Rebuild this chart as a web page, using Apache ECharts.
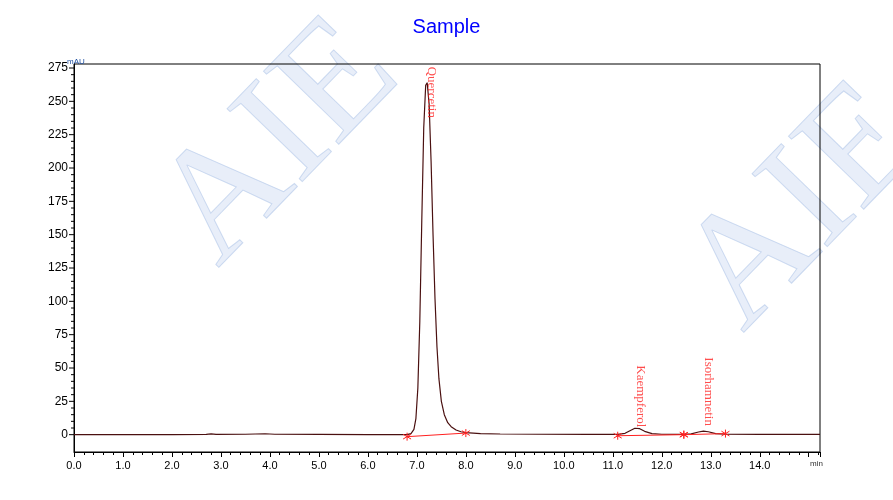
<!DOCTYPE html><html><head><meta charset="utf-8"><script src="https://cdn.jsdelivr.net/npm/echarts@6/dist/echarts.min.js"></script></head><body style="margin:0"><div id="c" style="width:893px;height:500px"></div><script>
const signal = [[0,0],[1,0],[2,0.1],[2.7,0.2],[2.8,0.6],[2.9,0.2],[3.5,0.3],[3.9,0.7],[4.1,0.3],[5,0.2],[6,0.1],[6.8,0],[6.88,0.8],[6.94,4],[6.98,12],[7.02,35],[7.06,85],[7.1,160],[7.14,230],[7.18,262],[7.21,264],[7.25,248],[7.29,205],[7.33,150],[7.37,102],[7.41,66],[7.45,42],[7.5,25],[7.56,15],[7.63,9],[7.7,6],[7.8,3.5],[7.9,2.2],[8.0,1.5],[8.3,0.8],[8.7,0.5],[9.5,0.3],[10.5,0.2],[11.1,0.2],[11.25,1],[11.35,3],[11.45,4.8],[11.55,4.5],[11.65,2.5],[11.8,0.8],[12.0,0.3],[12.45,0.2],[12.6,0.6],[12.75,2],[12.85,2.6],[12.95,2.2],[13.1,0.8],[13.3,0.3],[14,0.2],[15.23,0.2]];
const baselines = [[[6.8,-1.5],[8.0,1.2]],[[11.1,-0.8],[12.45,0]],[[12.45,0],[13.3,0.8]]];
const peaks = [["Quercetin",7.3,276],["Kaempferol",11.57,52],["Isorhamnetin",12.95,58]];
const red='#ff2020';
const series=[{type:'line',data:signal,showSymbol:false,lineStyle:{color:'#4a1010',width:1.2},z:3}];
baselines.forEach(b=>series.push({type:'line',data:b,symbol:'path://M0,-5L0,5M-4,-3L4,3M-4,3L4,-3',symbolSize:8,showSymbol:true,itemStyle:{color:red,borderColor:red,borderWidth:1},lineStyle:{color:red,width:1},z:4}));
series.push({type:'scatter',clip:false,data:peaks.map(p=>({value:[p[1],p[2]],name:p[0]})),symbolSize:2,itemStyle:{color:'rgba(0,0,0,0)'},label:{show:true,formatter:'{b}',rotate:-90,align:'left',verticalAlign:'middle',position:'inside',color:red,fontFamily:'Liberation Serif',fontSize:13},z:6});
series.push({type:'custom',renderItem:(p,api)=>{const v=api.value(0);const pt=api.coord([0,v]);const major=v%25===0;return {type:'group',children:[{type:'line',shape:{x1:pt[0]-(major?5:3),y1:pt[1],x2:pt[0],y2:pt[1]},style:{stroke:'#000'}}].concat(major?[{type:'text',style:{text:String(v),x:pt[0]-6,y:pt[1],align:'right',verticalAlign:'middle',font:'12px Liberation Sans',fill:'#000'}}]:[])};},data:(()=>{const a=[];for(let v=0;v<=275;v+=5)a.push([v]);return a;})(),clip:false,z:5});
const wm={font:'160px Liberation Serif',fill:'rgba(180,200,235,0.3)',stroke:'rgba(150,180,225,0.45)',lineWidth:1};
const chart=echarts.init(document.getElementById('c'));
chart.setOption({animation:false,
title:{text:'Sample',left:'center',top:12,textStyle:{color:'#0000ff',fontWeight:'normal',fontSize:20,fontFamily:'Liberation Sans'}},
graphic:[{type:'text',x:245,y:295,rotation:0.8,style:Object.assign({text:'AIE',verticalAlign:'bottom'},wm),z:-1},
{type:'text',x:770,y:360,rotation:0.8,style:Object.assign({text:'AIE',verticalAlign:'bottom'},wm),z:-1},
{type:'text',left:67,top:58,style:{text:'mAU',font:'8px Liberation Sans',fill:'#2050a0'}},
{type:'text',left:810,top:460,style:{text:'min',font:'8px Liberation Sans',fill:'#333'}}],
grid:{left:74,right:73,top:64,bottom:48,show:true,borderColor:'#000',borderWidth:1},
xAxis:{type:'value',min:0,max:15.23,interval:1,axisLine:{onZero:false,lineStyle:{color:'#000'}},axisTick:{lineStyle:{color:'#000'}},minorTick:{show:true,splitNumber:5,lineStyle:{color:'#000'}},splitLine:{show:false},axisLabel:{color:'#000',fontSize:11,formatter:v=>v<15?v.toFixed(1):'',showMaxLabel:false}},
yAxis:{type:'value',min:-13,max:278,axisLine:{show:true,onZero:false,lineStyle:{color:'#000'}},axisTick:{show:false},splitLine:{show:false},axisLabel:{show:false}},
series:series});
</script></body></html>
